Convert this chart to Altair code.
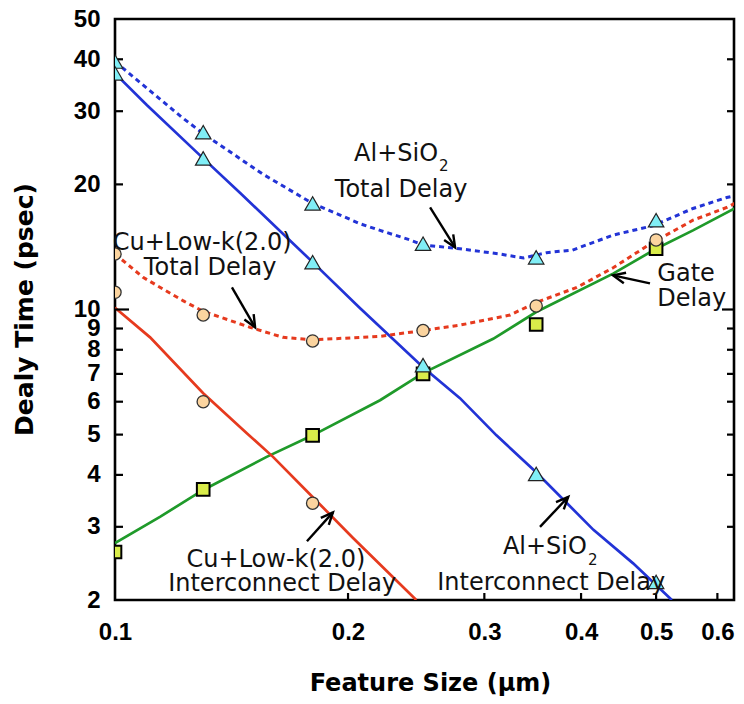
import math
import altair as alt
import pandas as pd

# ---------------- data ----------------
# marker positions (feature size, um)
sizes = [0.1, 0.13, 0.18, 0.25, 0.35, 0.5, 0.65]
al_total_pts = [39.5, 26.7, 18.0, 14.4, 13.35, 16.4, 19.3]
al_inter_sizes = [0.1, 0.13, 0.18, 0.25, 0.35, 0.5]
al_inter_pts = [37.0, 23.1, 13.0, 7.35, 4.02, 2.21]
cu_total_pts = [13.6, 9.7, 8.4, 8.9, 10.2, 14.7, 18.5]
cu_inter_sizes = [0.1, 0.13, 0.18]
cu_inter_pts = [11.0, 6.0, 3.42]
gate_pts = [2.61, 3.69, 4.98, 7.0, 9.2, 14.0, 18.1]

# curves
gate_line_x = [0.1, 0.1143, 0.13, 0.157, 0.18, 0.22, 0.25, 0.308, 0.35, 0.44, 0.5, 0.558, 0.65]
gate_line_y = [2.74, 3.17, 3.68, 4.42, 4.98, 6.05, 7.03, 8.5, 9.86, 12.2, 14.0, 15.5, 18.0]

al_inter_line_x = [0.1, 0.11, 0.13, 0.145, 0.18, 0.207, 0.25, 0.279, 0.311, 0.35, 0.415, 0.467, 0.524]
al_inter_line_y = [37.0, 31.0, 23.1, 19.1, 13.0, 10.1, 7.26, 6.12, 4.98, 4.06, 2.95, 2.45, 2.0]

cu_inter_line_x = [0.1, 0.111, 0.13, 0.148, 0.16, 0.18, 0.203, 0.245]
cu_inter_line_y = [10.1, 8.57, 6.29, 5.04, 4.42, 3.54, 2.82, 2.0]

al_total_line_x = [0.1, 0.122, 0.13, 0.155, 0.18, 0.195, 0.207, 0.22, 0.2405, 0.25, 0.279,
                   0.314, 0.337, 0.361, 0.39, 0.44, 0.495, 0.558, 0.617, 0.65]
al_total_line_y = [39.5, 29.0, 26.5, 21.2, 18.0, 16.9, 16.1, 15.5, 14.7, 14.3, 14.0,
                   13.6, 13.3, 13.7, 13.9, 15.1, 15.9, 17.5, 18.6, 19.0]

cu_total_line_x = [0.1, 0.1087, 0.1224, 0.13, 0.1494, 0.1648, 0.18, 0.191, 0.22, 0.25, 0.279,
                   0.324, 0.35, 0.395, 0.44, 0.492, 0.558, 0.617, 0.65]
cu_total_line_y = [13.6, 11.95, 10.5, 9.9, 9.06, 8.57, 8.45, 8.5, 8.62, 8.9, 9.17,
                   9.7, 10.4, 11.3, 12.6, 14.4, 16.4, 17.6, 18.5]

# axis tick values
x_ticks = [0.1, 0.2, 0.3, 0.4, 0.5, 0.6]
y_ticks = [2, 3, 4, 5, 6, 7, 8, 9, 10, 20, 30, 40, 50]
y_minor_marks = [3, 4, 5, 6, 7, 8, 9, 20, 30, 40]
y_major_marks = [10]
x_marks = [0.2, 0.3, 0.4, 0.5, 0.6]

# annotations (data coordinates)
center_texts = ["Total Delay", "Cu+Low-k(2.0)", "Total Delay", "Gate", "Delay",
                "Cu+Low-k(2.0)", "Interconnect Delay", "Interconnect Delay"]
center_x = [0.2342, 0.1296, 0.1327, 0.5467, 0.556, 0.1614, 0.1644, 0.366]
center_y = [19.56, 14.6, 12.7, 12.3, 10.7, 2.52, 2.20, 2.22]
sio_texts = ["Al+SiO", "Al+SiO"]
sio_x = [0.2614, 0.407]
sio_y = [23.9, 2.70]
sub_texts = ["2", "2"]

arrow_tail_x = [0.2553, 0.1416, 0.491, 0.177, 0.354]
arrow_tail_y = [17.6, 11.3, 11.56, 2.77, 3.0]
arrow_tip_x = [0.275, 0.1517, 0.440, 0.1912, 0.385]
arrow_tip_y = [14.1, 9.06, 12.08, 3.25, 3.54]

# ---------------- layout / style ----------------
W, H = 619, 581
X_MIN, X_MAX = 0.1, 0.6304
Y_MIN, Y_MAX = 2, 50

xs = alt.Scale(type="log", domain=[X_MIN, X_MAX], nice=False)
ys = alt.Scale(type="log", domain=[Y_MIN, Y_MAX], nice=False)

x_axis = alt.Axis(values=x_ticks, format=".1f", labelFont="Liberation Sans", labelFontSize=24,
                  labelFontWeight="bold", labelColor="black", labelPadding=20, ticks=False,
                  tickSize=0, domain=False, grid=False, labelFlush=False, labelOverlap=False,
                  title="Feature Size (\u03bcm)", titleFont="DejaVu Sans", titleFontSize=24,
                  titleFontWeight="bold", titleColor="black", titleY=83, titleBaseline="middle",
                  titleX=315)
y_axis = alt.Axis(values=y_ticks, format="d", labelFont="Liberation Sans", labelFontSize=24,
                  labelFontWeight="bold", labelColor="black", labelPadding=15, ticks=False,
                  tickSize=0, domain=False, grid=False, labelFlush=False, labelOverlap=False,
                  title="Dealy Time (psec)", titleFont="DejaVu Sans", titleFontSize=25,
                  titleFontWeight="bold", titleColor="black", titleX=-91, titleY=290,
                  titleBaseline="middle", titleAngle=270)


def X(field="x"):
    return alt.X(f"{field}:Q", scale=xs, axis=x_axis)


def Y(field="y"):
    return alt.Y(f"{field}:Q", scale=ys, axis=y_axis)


BLUE = "#2233D6"
RED = "#E63A1E"
GREEN = "#1F9A2A"

# line data
rows = []
for name, xv, yv in [("gate", gate_line_x, gate_line_y),
                     ("al_inter", al_inter_line_x, al_inter_line_y),
                     ("cu_inter", cu_inter_line_x, cu_inter_line_y)]:
    rows += [{"series": name, "x": a, "y": b} for a, b in zip(xv, yv)]
solid_df = pd.DataFrame(rows)
rows = []
for name, xv, yv in [("al_total", al_total_line_x, al_total_line_y),
                     ("cu_total", cu_total_line_x, cu_total_line_y)]:
    rows += [{"series": name, "x": a, "y": b} for a, b in zip(xv, yv)]
dotted_df = pd.DataFrame(rows)

color_scale = alt.Scale(domain=["gate", "al_inter", "cu_inter", "al_total", "cu_total"],
                        range=[GREEN, BLUE, RED, BLUE, RED])

solid_layer = alt.Chart(solid_df).mark_line(strokeWidth=2.7, clip=True).encode(
    x=X(), y=Y(), color=alt.Color("series:N", scale=color_scale, legend=None),
    detail="series:N")
dotted_layer = alt.Chart(dotted_df).mark_line(strokeWidth=3, strokeDash=[5, 4], clip=True).encode(
    x=X(), y=Y(), color=alt.Color("series:N", scale=color_scale, legend=None),
    detail="series:N")

# inner ticks
tick_left = alt.Chart(pd.DataFrame({"y": y_minor_marks})).mark_rule(
    color="black", strokeWidth=2.2).encode(y=Y(), x=alt.value(0), x2=alt.value(8))
tick_left_major = alt.Chart(pd.DataFrame({"y": y_major_marks})).mark_rule(
    color="black", strokeWidth=2.2).encode(y=Y(), x=alt.value(0), x2=alt.value(14))
tick_right = alt.Chart(pd.DataFrame({"y": y_minor_marks})).mark_rule(
    color="black", strokeWidth=2.2).encode(y=Y(), x=alt.value(W - 7), x2=alt.value(W))
tick_right_major = alt.Chart(pd.DataFrame({"y": y_major_marks})).mark_rule(
    color="black", strokeWidth=2.2).encode(y=Y(), x=alt.value(W - 12), x2=alt.value(W))
tick_bottom = alt.Chart(pd.DataFrame({"x": x_marks})).mark_rule(
    color="black", strokeWidth=2.2).encode(x=X(), y=alt.value(H - 7), y2=alt.value(H))

# arrows
kx = W / math.log10(X_MAX / X_MIN)
ky = H / math.log10(Y_MAX / Y_MIN)
angles = []
for tx, ty, hx, hy in zip(arrow_tail_x, arrow_tail_y, arrow_tip_x, arrow_tip_y):
    dx = kx * math.log10(hx / tx)
    dy = -ky * math.log10(hy / ty)
    angles.append(math.degrees(math.atan2(dx, -dy)) % 360)
arrow_df = pd.DataFrame({"x": arrow_tail_x, "y": arrow_tail_y, "x2": arrow_tip_x,
                         "y2": arrow_tip_y, "ang": angles})
arrow_lines = alt.Chart(arrow_df).mark_rule(color="black", strokeWidth=2.4).encode(
    x=X(), y=Y(), x2="x2:Q", y2="y2:Q")
arrow_heads = alt.Chart(arrow_df).mark_point(
    shape="M -0.42 0.95 L 0 0 L 0.42 0.95", filled=False, stroke="black", strokeWidth=2.4,
    size=650, opacity=1).encode(x=X("x2"), y=Y("y2"), angle=alt.Angle("ang:Q", scale=None))

# markers
sq_df = pd.DataFrame({"x": sizes, "y": gate_pts})
circ_df = pd.DataFrame({"x": sizes + cu_inter_sizes, "y": cu_total_pts + cu_inter_pts})
tri_df = pd.DataFrame({"x": sizes + al_inter_sizes, "y": al_total_pts + al_inter_pts})

squares = alt.Chart(sq_df).mark_point(shape="square", filled=True, fill="#D9EC4A", stroke="black",
                                      strokeWidth=2, size=160, opacity=1, clip=True).encode(
    x=X(), y=Y())
circles = alt.Chart(circ_df).mark_point(shape="circle", filled=True, fill="#FBD49F", stroke="#333333",
                                        strokeWidth=1.3, size=150, opacity=1, clip=True).encode(
    x=X(), y=Y())
triangles = alt.Chart(tri_df).mark_point(shape="triangle-up", filled=True, fill="#80EEF6",
                                         stroke="#222222", strokeWidth=1.2, size=240, opacity=1,
                                         clip=True).encode(x=X(), y=Y())

# annotations
TXT = dict(font="DejaVu Sans", fontSize=24, color="#111111", baseline="middle")
c_df = pd.DataFrame({"x": center_x, "y": center_y, "t": center_texts})
s_df = pd.DataFrame({"x": sio_x, "y": sio_y, "t": sio_texts})
sub_df = pd.DataFrame({"x": sio_x, "y": sio_y, "t": sub_texts})
ctext = alt.Chart(c_df).mark_text(align="center", dy=1.5, **TXT).encode(x=X(), y=Y(), text="t:N")
stext = alt.Chart(s_df).mark_text(align="right", dy=1.5, **TXT).encode(x=X(), y=Y(), text="t:N")
subtext = alt.Chart(sub_df).mark_text(align="left", dx=1, dy=14, font="DejaVu Sans", fontSize=15,
                                      color="#111111", baseline="middle").encode(
    x=X(), y=Y(), text="t:N")

chart = alt.layer(
    solid_layer, dotted_layer,
    tick_left, tick_left_major, tick_right, tick_right_major, tick_bottom,
    arrow_lines, arrow_heads,
    squares, circles, triangles,
    ctext, stext, subtext,
).properties(
    width=W, height=H,
    background="white",
    padding={"left": 107, "top": 11, "right": 2, "bottom": 96},
    autosize=alt.AutoSizeParams(type="none"),
).configure_view(stroke="black", strokeWidth=2.6)

chart.save("out.html", embed_options={"renderer": "svg", "actions": False})
